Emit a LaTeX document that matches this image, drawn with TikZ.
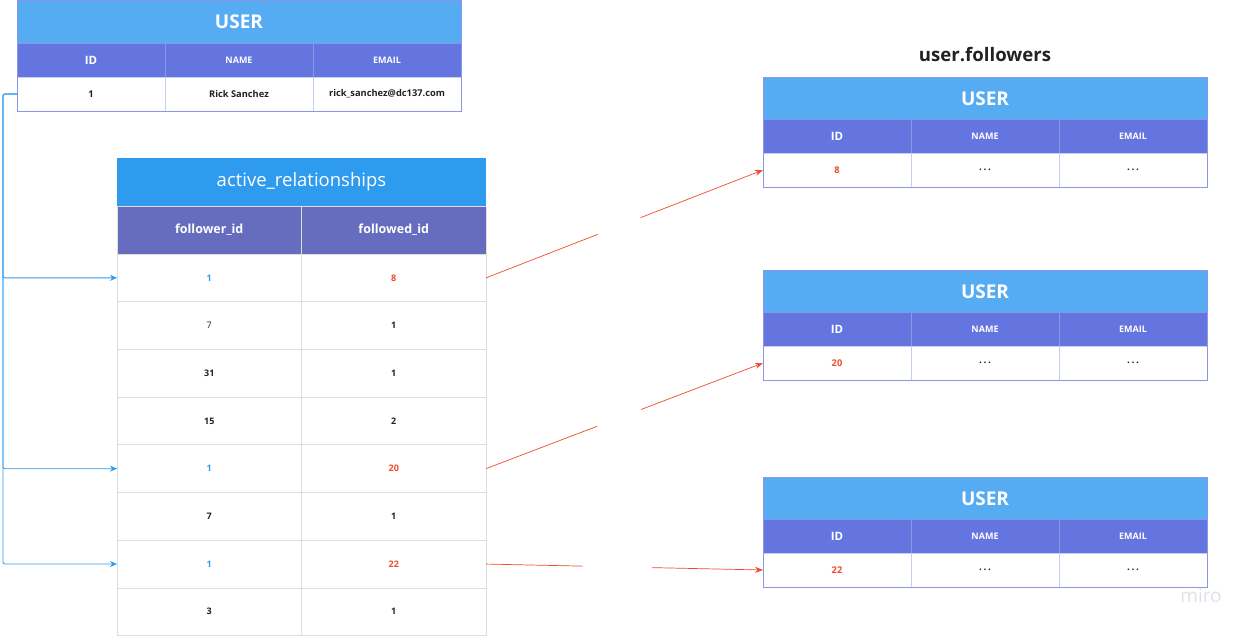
\documentclass[tikz,border=0pt]{standalone}
\usepackage{fontspec}
\setmainfont{Open Sans}
\usetikzlibrary{arrows.meta}
\definecolor{utitle}{HTML}{55ACF2}
\definecolor{uhead}{HTML}{6475E0}
\definecolor{uborder}{HTML}{8C96E6}
\definecolor{usep}{HTML}{C9CDF3}
\definecolor{atitle}{HTML}{2E9BEF}
\definecolor{ahead}{HTML}{666DBF}
\definecolor{agrid}{HTML}{DDDDDD}
\definecolor{redc}{HTML}{F04A2A}
\definecolor{bluec}{HTML}{2E9BEF}
\definecolor{txt}{HTML}{222222}
\definecolor{miroc}{HTML}{E2E0EA}
\tikzset{
  x=1pt, y=-1pt,
  cellbase/.style={anchor=north west, inner sep=0pt, outer sep=0pt, align=center},
  usertitle/.style={cellbase, fill=utitle, minimum width=444pt, minimum height=43pt, text=white, font=\fontsize{19}{22}\selectfont\bfseries},
  userhead/.style={cellbase, fill=uhead, draw=uborder, line width=0.5pt, minimum width=148pt, minimum height=34pt, text=white, font=\fontsize{9}{11}\selectfont\bfseries},
  userheadid/.style={userhead, font=\fontsize{11.5}{13}\selectfont\bfseries},
  userrow/.style={cellbase, fill=white, draw=usep, line width=0.6pt, minimum width=148pt, minimum height=34pt, text=txt, font=\fontsize{9.3}{11}\selectfont\bfseries},
  userdots/.style={userrow, font=\fontsize{10}{12}\selectfont\bfseries},
  reltitle/.style={cellbase, fill=atitle, minimum width=369pt, minimum height=48pt, text=white, font=\fontsize{18.5}{22}\selectfont},
  relhead/.style={cellbase, fill=ahead, draw=agrid, line width=0.5pt, minimum width=184.5pt, minimum height=48pt, text=white, font=\fontsize{12.5}{15}\selectfont\bfseries},
  relrow/.style={cellbase, fill=white, draw=agrid, line width=0.8pt, minimum width=184.5pt, minimum height=47.7pt, text=txt, font=\fontsize{9}{11}\selectfont\bfseries},
  blink/.style={draw=bluec, line width=0.8pt, -{Stealth[length=7pt,width=6pt]}},
  rlink/.style={draw=redc, line width=0.7pt, -{Stealth[length=8pt,width=6pt]}},
}
\begin{document}
\begin{tikzpicture}
\useasboundingbox (0,0) rectangle (1234,635);
\fill[white] (0,0) rectangle (1234,635);

% ---------- top USER table ----------
\node[usertitle] (u0t) at (17,0) {USER};
\node[userheadid] (u0h1) at (17,43) {ID};
\node[userhead] (u0h2) at (165,43) {NAME};
\node[userhead] (u0h3) at (313,43) {EMAIL};
\node[userrow] (u0r1) at (17,77) {1};
\node[userrow] (u0r2) at (165,77) {Rick Sanchez};
\node[userrow] (u0r3) at (313,77) {rick\_sanchez@dc137.com};
\draw[uborder, line width=0.8pt] (u0t.north west) rectangle (u0r3.south east);

% ---------- active_relationships ----------
\node[reltitle] (art) at (117,158) {active\_relationships};
\node[relhead] (arh1) at (117,206) {follower\_id};
\node[relhead] (arh2) at (301.5,206) {followed\_id};
\foreach \i/\a/\b/\ca/\cb/\fa in {1/1/8/bluec/redc/\bfseries, 2/7/1/txt/txt/\mdseries, 3/31/1/txt/txt/\bfseries, 4/15/2/txt/txt/\bfseries, 5/1/20/bluec/redc/\bfseries, 6/7/1/txt/txt/\bfseries, 7/1/22/bluec/redc/\bfseries, 8/3/1/txt/txt/\bfseries}{
  \node[relrow, text=\ca, font=\fontsize{9}{11}\selectfont\fa] (ar\i a) at (117,{254+(\i-1)*47.7}) {\a};
  \node[relrow, text=\cb] (ar\i b) at (301.5,{254+(\i-1)*47.7}) {\b};
}

% ---------- user.followers ----------
\node[font=\fontsize{18.6}{22}\selectfont\bfseries, text=txt] (uftitle) at (985,55) {user.followers};

\foreach \k/\y/\id in {1/77/8, 2/270/20, 3/477/22}{
  \node[usertitle] (u\k t) at (763,\y) {USER};
  \node[userheadid] (u\k h1) at (763,\y+42) {ID};
  \node[userhead] (u\k h2) at (911,\y+42) {NAME};
  \node[userhead] (u\k h3) at (1059,\y+42) {EMAIL};
  \node[userrow, text=redc] (u\k r1) at (763,\y+76) {\id};
  \node[userdots] (u\k r2) at (911,\y+76) {.\,.\,.};
  \node[userdots] (u\k r3) at (1059,\y+76) {.\,.\,.};
  \draw[uborder, line width=0.8pt] (u\k t.north west) rectangle (u\k r3.south east);
}

% ---------- blue links ----------
\coordinate (bus) at (3,94);
\draw[blink, rounded corners=2pt] (u0r1.west) -- (bus) |- (ar1a.west);
\draw[blink, rounded corners=2pt] (u0r1.west) -- (bus) |- (ar5a.west);
\draw[blink, rounded corners=2pt] (u0r1.west) -- (bus) |- (ar7a.west);

% ---------- red links ----------
\draw[rlink, dash pattern=on 120pt off 46pt on 400pt] (ar1b.east) -- (u1r1.west);
\draw[rlink, dash pattern=on 119pt off 47pt on 400pt] (ar5b.east) -- (u2r1.west);
\draw[rlink, dash pattern=on 97pt off 69pt on 400pt] (ar7b.east) -- (u3r1.west);

% ---------- watermark ----------
\node[text=miroc, font=\fontsize{19}{22}\selectfont] (miro) at (1201,596) {miro};
\end{tikzpicture}
\end{document}
